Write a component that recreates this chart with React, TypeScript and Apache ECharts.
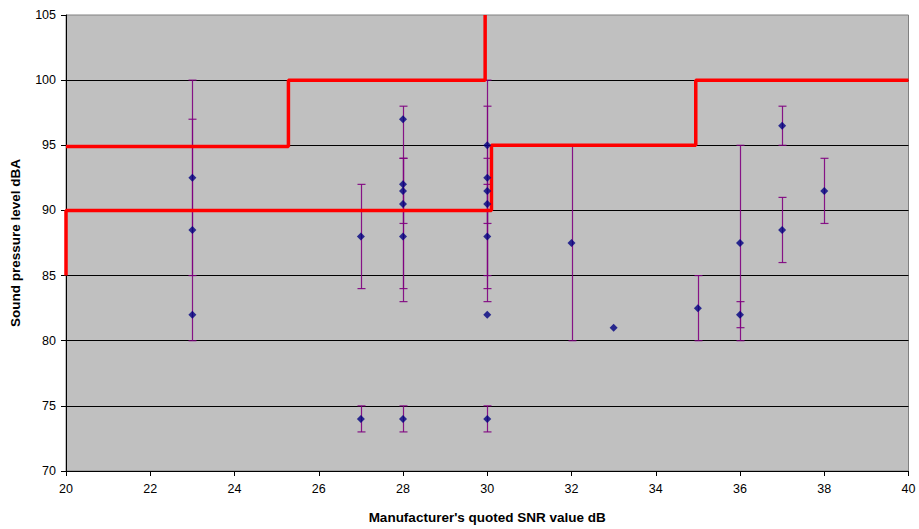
import React, { useEffect, useRef } from "react";
import * as echarts from "echarts";

// Measured points: manufacturer's quoted SNR (dB) vs sound pressure level (dBA)
const snr = [23, 23, 23, 27, 27, 28, 28, 28, 28, 28, 28, 30, 30, 30, 30, 30, 30, 30, 32, 33, 35, 36, 36, 37, 37, 38];
const spl = [92.5, 88.5, 82, 88, 74, 97, 92, 91.5, 90.5, 88, 74, 95, 92.5, 91.5, 90.5, 88, 82, 74, 87.5, 81, 82.5, 87.5, 82, 96.5, 88.5, 91.5];
// Error bar ranges (null = no bar)
const errLow: (number | null)[] = [85, 80, null, 84, 73, 89, 84, null, null, 83, 73, 85, 83, 89, 84, null, null, 73, 80, null, 80, 80, 81, 95, 86, 89];
const errHigh: (number | null)[] = [100, 97, null, 92, 75, 98, 94, null, null, 94, 75, 100, 98, 94, 92, null, null, 75, 95, null, 85, 95, 83, 98, 91, 94];

// Red limit step lines
const limitLowerX = [20, 20, 30.1, 30.1, 34.95, 34.95, 40];
const limitLowerY = [85, 90, 90, 95, 95, 100, 100];
const limitUpperX = [20, 25.28, 25.28, 29.95, 29.95];
const limitUpperY = [94.9, 94.9, 100, 100, 105];

const xTicks = { min: 20, max: 40, interval: 2 };
const yTicks = { min: 70, max: 105, interval: 5 };

export default function App() {
  const ref = useRef<HTMLDivElement>(null);

  useEffect(() => {
    if (!ref.current) return;
    const chart = echarts.init(ref.current, null, { renderer: "svg" });

    const points = snr.map((x, i) => [x, spl[i]]);
    const errData: number[][] = [];
    snr.forEach((x, i) => {
      const lo = errLow[i];
      const hi = errHigh[i];
      if (lo !== null && hi !== null) errData.push([x, lo, hi]);
    });
    const lower = limitLowerX.map((x, i) => [x, limitLowerY[i]]);
    const upper = limitUpperX.map((x, i) => [x, limitUpperY[i]]);

    const font = "'Liberation Sans', Arial, sans-serif";

    chart.setOption({
      animation: false,
      backgroundColor: "#ffffff",
      grid: {
        left: 65,
        right: 10.5,
        top: 15,
        bottom: 55.5,
        show: true,
        backgroundColor: "#C0C0C0",
        borderColor: "#808080",
        borderWidth: 1,
      },
      xAxis: {
        type: "value",
        min: xTicks.min,
        max: xTicks.max,
        interval: xTicks.interval,
        name: "Manufacturer's quoted SNR value dB",
        nameLocation: "middle",
        nameGap: 39,
        nameTextStyle: { fontFamily: font, fontSize: 13.5, fontWeight: "bold", color: "#000" },
        axisLine: { show: true, onZero: false, lineStyle: { color: "#000", width: 1 } },
        axisTick: { show: true, inside: false, length: 5, lineStyle: { color: "#000" } },
        axisLabel: { fontFamily: font, fontSize: 12.5, color: "#000", margin: 11 },
        splitLine: { show: false },
      },
      yAxis: {
        type: "value",
        min: yTicks.min,
        max: yTicks.max,
        interval: yTicks.interval,
        name: "Sound pressure level dBA",
        nameLocation: "middle",
        nameGap: 44,
        nameRotate: 90,
        nameTextStyle: { fontFamily: font, fontSize: 13.5, fontWeight: "bold", color: "#000" },
        axisLine: { show: true, onZero: false, lineStyle: { color: "#000", width: 1 } },
        axisTick: { show: true, inside: false, length: 5, lineStyle: { color: "#000" } },
        axisLabel: { fontFamily: font, fontSize: 12.5, color: "#000", margin: 10 },
        splitLine: { show: true, showMinLine: false, showMaxLine: false, lineStyle: { color: "#000", width: 1 } },
      },
      series: [
        {
          type: "custom",
          name: "error",
          data: errData,
          z: 2,
          renderItem: (params: any, api: any) => {
            const x = api.value(0);
            const lo = api.value(1);
            const hi = api.value(2);
            const pLo = api.coord([x, lo]);
            const pHi = api.coord([x, hi]);
            const cx = Math.round(pLo[0]) + 0.5;
            const cap = 4;
            const style = { stroke: "#800080", lineWidth: 1.2, opacity: 0.9 };
            return {
              type: "group",
              children: [
                { type: "line", shape: { x1: cx, y1: pLo[1], x2: cx, y2: pHi[1] }, style },
                { type: "line", shape: { x1: cx - cap, y1: pLo[1], x2: cx + cap, y2: pLo[1] }, style },
                { type: "line", shape: { x1: cx - cap, y1: pHi[1], x2: cx + cap, y2: pHi[1] }, style },
              ],
            };
          },
        },
        {
          type: "line",
          name: "limit lower",
          data: lower,
          symbol: "none",
          z: 3,
          lineStyle: { color: "#FF0000", width: 3.5 },
        },
        {
          type: "line",
          name: "limit upper",
          data: upper,
          symbol: "none",
          z: 3,
          lineStyle: { color: "#FF0000", width: 3.5 },
        },
        {
          type: "scatter",
          name: "points",
          data: points,
          symbol: "diamond",
          symbolSize: 8,
          z: 4,
          itemStyle: { color: "#000080" },
        },
      ],
    });

    return () => chart.dispose();
  }, []);

  return (
    <div
      ref={ref}
      style={{ position: "fixed", left: 0, top: 0, width: 919, height: 529, background: "#fff" }}
    />
  );
}
